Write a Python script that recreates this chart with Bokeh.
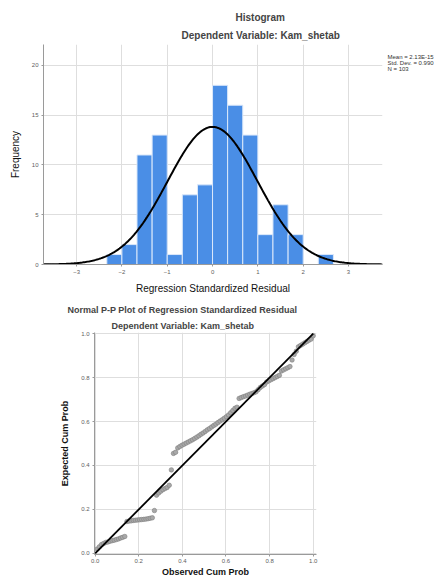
import numpy as np
from bokeh.plotting import figure
from bokeh.models import Title, FixedTicker, CustomJSTickFormatter, LinearAxis
from bokeh.embed import file_html
from bokeh.resources import INLINE

FONT = "Liberation Sans"

# ---------------- data ----------------
bin_edges = [-2.333, -2.0, -1.667, -1.333, -1.0, -0.667, -0.333, 0.0,
             0.333, 0.667, 1.0, 1.333, 1.667, 2.0, 2.333, 2.667]
counts = [1, 2, 11, 13, 1, 7, 8, 18, 16, 13, 3, 6, 3, 0, 1]
resid_mean = 2.13e-15
resid_sd = 0.990
resid_n = 103
stats_lines = ["Mean = 2.13E-15", "Std. Dev. = 0.990", "N = 103"]
hist_xticks = [-3, -2, -1, 0, 1, 2, 3]
hist_yticks = [0, 5, 10, 15, 20]

expected_cum_prob = [
    0.020, 0.030, 0.040, 0.045, 0.050, 0.052, 0.055, 0.058, 0.060, 0.063, 0.066, 0.070, 0.073, 0.077,
    0.145, 0.147, 0.148, 0.150, 0.151, 0.152, 0.153, 0.154, 0.155, 0.156, 0.158, 0.160, 0.162,
    0.195,
    0.265, 0.275, 0.283, 0.290, 0.295, 0.300,
    0.310,
    0.380,
    0.455, 0.460,
    0.480, 0.486, 0.492, 0.497, 0.502, 0.507, 0.512, 0.517, 0.523, 0.529, 0.535, 0.542, 0.548,
    0.555, 0.562, 0.568, 0.575, 0.582, 0.588, 0.595, 0.602, 0.608, 0.615, 0.622, 0.630,
    0.640, 0.650, 0.660, 0.665,
    0.705, 0.709, 0.713, 0.716, 0.720, 0.724, 0.727, 0.731, 0.735,
    0.745, 0.755, 0.762, 0.768,
    0.780, 0.785, 0.790, 0.795, 0.800, 0.805, 0.810,
    0.830, 0.835, 0.840, 0.845, 0.850,
    0.880, 0.905, 0.920,
    0.940, 0.946, 0.952, 0.958, 0.964, 0.970, 0.975,
    0.990,
]
pp_ticks = [0.0, 0.2, 0.4, 0.6, 0.8, 1.0]
ref_line = [0.0, 1.0]

BAR_COLOR = "#4a8ee6"
GRID = "#dedede"
AXIS = "#9a9a9a"
TICKLBL = "#606060"


def style_axes(p):
    for ax in (p.xaxis[0], p.yaxis[0]):
        ax.axis_line_color = AXIS
        ax.major_tick_line_color = AXIS
        ax.major_tick_out = 2
        ax.major_tick_in = 0
        ax.minor_tick_line_color = None
        ax.major_label_text_font = FONT
        ax.major_label_text_font_size = "6px"
        ax.major_label_text_color = TICKLBL
        ax.major_label_standoff = 3
        ax.axis_label_text_font = FONT
        ax.axis_label_text_font_size = "10px"
        ax.axis_label_text_font_style = "normal"
        ax.axis_label_text_color = "#111111"
    p.outline_line_color = None
    p.xgrid.grid_line_color = GRID
    p.ygrid.grid_line_color = GRID
    p.background_fill_color = "white"
    p.border_fill_color = "white"


# ---------------- histogram ----------------
p1 = figure(width=436, height=296, x_range=(-3.73, 3.75), y_range=(0, 22.1),
            output_backend="svg", toolbar_location=None, title=None,
            min_border_left=43, min_border_right=53, min_border_top=44,
            min_border_bottom=32)
style_axes(p1)
p1.add_layout(Title(text="Dependent Variable: Kam_shetab", align="left", offset=138,
                    text_font=FONT, text_font_size="10px", text_font_style="bold",
                    standoff=7), "above")
p1.add_layout(Title(text="Histogram", align="left", offset=192,
                    text_font=FONT, text_font_size="10px", text_font_style="bold",
                    standoff=4), "above")

p1.quad(left=bin_edges[:-1], right=bin_edges[1:], top=counts, bottom=0,
        fill_color=BAR_COLOR, line_color="#dbe8fa", line_width=1)

xs = np.linspace(-3.73, 3.75, 300)
bw = bin_edges[1] - bin_edges[0]
ys = resid_n * bw / (resid_sd * np.sqrt(2 * np.pi)) * np.exp(-0.5 * ((xs - resid_mean) / resid_sd) ** 2)
p1.line(xs, ys, line_color="black", line_width=2)

p1.xaxis.ticker = FixedTicker(ticks=hist_xticks)
p1.yaxis.ticker = FixedTicker(ticks=hist_yticks)
p1.xaxis.axis_label = "Regression Standardized Residual"
p1.yaxis.axis_label = "Frequency"
p1.xaxis.axis_label_standoff = 6
p1.yaxis.axis_label_standoff = 8

# statistics box to the right of the frame (as axis labels, so it is not clipped)
stats_axis = LinearAxis(
    ticker=FixedTicker(ticks=[19.6, 20.2, 20.8]),
    formatter=CustomJSTickFormatter(args=dict(labels=stats_lines[::-1]),
                                    code="return labels[index];"),
    axis_line_color=None, major_tick_line_color=None, minor_tick_line_color=None,
    major_tick_out=0, major_tick_in=0,
    major_label_text_font=FONT, major_label_text_font_size="6px",
    major_label_text_color="#333333", major_label_standoff=5)
p1.add_layout(stats_axis, "right")

# ---------------- P-P plot ----------------
n_pts = len(expected_cum_prob)
observed_cum_prob = np.arange(1, n_pts + 1) / n_pts

p2 = figure(width=436, height=284, x_range=(-0.003, 1.015), y_range=(-0.005, 1.005),
            output_backend="svg", toolbar_location=None, title=None,
            min_border_left=94, min_border_right=120, min_border_top=36,
            min_border_bottom=26)
style_axes(p2)
p2.add_layout(Title(text="Dependent Variable: Kam_shetab", align="left", offset=17,
                    text_font=FONT, text_font_size="9px", text_font_style="bold",
                    standoff=3), "above")
p2.add_layout(Title(text="Normal P-P Plot of Regression Standardized Residual",
                    align="left", offset=-27,
                    text_font=FONT, text_font_size="9px", text_font_style="bold",
                    standoff=5), "above")

p2.scatter(observed_cum_prob, expected_cum_prob, marker="circle", size=4.5,
           fill_color="#a8a8a8", line_color="#808080", line_width=0.6)
p2.line(ref_line, ref_line, line_color="black", line_width=1.8)

fmt = CustomJSTickFormatter(code="return tick.toFixed(1);")
p2.xaxis.ticker = FixedTicker(ticks=pp_ticks)
p2.yaxis.ticker = FixedTicker(ticks=pp_ticks)
p2.xaxis.formatter = fmt
p2.yaxis.formatter = fmt
p2.xaxis.major_label_standoff = 2
p2.xaxis.axis_label = "Observed Cum Prob"
p2.yaxis.axis_label = "Expected Cum Prob"
p2.xaxis.axis_label_standoff = 1
p2.yaxis.axis_label_standoff = 8
p2.xaxis.axis_label_text_font_size = "9px"
p2.yaxis.axis_label_text_font_size = "9px"
p2.xaxis.axis_label_text_font_style = "bold"
p2.yaxis.axis_label_text_font_style = "bold"

open("out.html", "w").write(file_html([p1, p2], INLINE))
